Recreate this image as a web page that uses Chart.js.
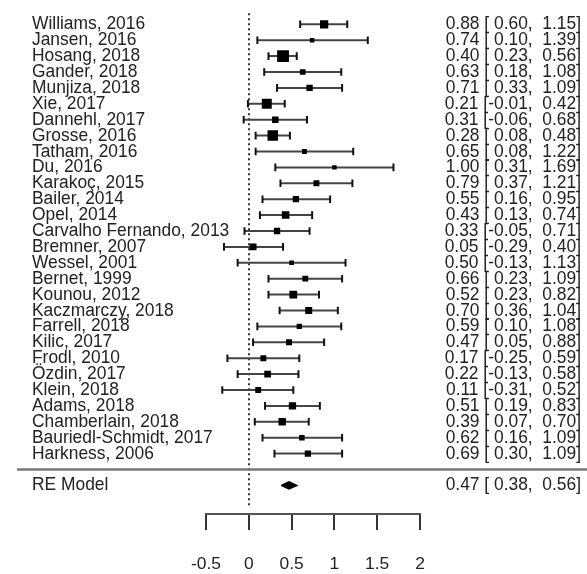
<!DOCTYPE html>
<html>
<head>
<meta charset="utf-8">
<script src="https://cdn.jsdelivr.net/npm/chart.js@4.4.1/dist/chart.umd.min.js"></script>
<style>
  html, body { margin: 0; padding: 0; background: #fff; }
  #wrap { width: 587px; height: 574px; position: relative; }
</style>
</head>
<body>
<div id="wrap"><canvas id="forest"></canvas></div>
<script>
// study data (standardised effects with 95% CI)
const studies = [
  'Williams, 2016', 'Jansen, 2016', 'Hosang, 2018', 'Gander, 2018', 'Munjiza, 2018',
  'Xie, 2017', 'Dannehl, 2017', 'Grosse, 2016', 'Tatham, 2016', 'Du, 2016',
  'Karakoç, 2015', 'Bailer, 2014', 'Opel, 2014', 'Carvalho Fernando, 2013', 'Bremner, 2007',
  'Wessel, 2001', 'Bernet, 1999', 'Kounou, 2012', 'Kaczmarczy, 2018', 'Farrell, 2018',
  'Kilic, 2017', 'Frodl, 2010', 'Özdin, 2017', 'Klein, 2018', 'Adams, 2018',
  'Chamberlain, 2018', 'Bauriedl-Schmidt, 2017', 'Harkness, 2006'
];
const estimates = [0.88, 0.74, 0.40, 0.63, 0.71, 0.21, 0.31, 0.28, 0.65, 1.00,
  0.79, 0.55, 0.43, 0.33, 0.05, 0.50, 0.66, 0.52, 0.70, 0.59,
  0.47, 0.17, 0.22, 0.11, 0.51, 0.39, 0.62, 0.69];
const lower = [0.60, 0.10, 0.23, 0.18, 0.33, -0.01, -0.06, 0.08, 0.08, 0.31,
  0.37, 0.16, 0.13, -0.05, -0.29, -0.13, 0.23, 0.23, 0.36, 0.10,
  0.05, -0.25, -0.13, -0.31, 0.19, 0.07, 0.16, 0.30];
const upper = [1.15, 1.39, 0.56, 1.08, 1.09, 0.42, 0.68, 0.48, 1.22, 1.69,
  1.21, 0.95, 0.74, 0.71, 0.40, 1.13, 1.09, 0.82, 1.04, 1.08,
  0.88, 0.59, 0.58, 0.52, 0.83, 0.70, 1.09, 1.09];
// approximate weights in %, read from the square sizes
const weights = [5.2, 1.3, 9.0, 2.5, 3.2, 7.0, 3.4, 7.6, 1.6, 1.2,
  2.8, 3.1, 4.5, 3.2, 3.8, 1.4, 2.7, 4.7, 3.9, 2.1,
  2.8, 2.8, 3.6, 2.8, 4.2, 4.3, 2.3, 3.1];

const pooledLabel = 'RE Model';
const pooled = { est: 0.47, lower: 0.38, upper: 0.56 };

const xTicks = [-0.5, 0, 0.5, 1, 1.5, 2];
const refLine = 0;

// rows: studies 1..28, separator at 29, summary at 30
const rowOf = i => i + 1;
const sepRow = studies.length + 1;
const pooledRow = studies.length + 2;

const FONT = '"Liberation Sans", Arial, Helvetica, sans-serif';
const FSIZE = 17.4;
const TEXT = '#222';

const fmtCI = v => (v < 0 ? '' : ' ') + v.toFixed(2);
const annot = (e, l, u) => e.toFixed(2) + ' [' + fmtCI(l) + ', ' + fmtCI(u) + ']';

// CI segments, one dataset per study
const ciSets = studies.map((s, i) => ({
  type: 'line',
  data: [{ x: lower[i], y: rowOf(i) }, { x: upper[i], y: rowOf(i) }],
  borderColor: '#444',
  borderWidth: 2,
  pointStyle: 'line',
  pointRotation: 90,
  pointRadius: 3.8,
  pointBorderColor: '#111',
  pointBorderWidth: 2,
  order: 2
}));

const squares = {
  type: 'scatter',
  data: estimates.map((e, i) => ({ x: e, y: rowOf(i) })),
  pointStyle: 'rect',
  pointRadius: weights.map(w => (3.3 + 0.95 * w) / Math.SQRT2),
  backgroundColor: '#000',
  borderWidth: 0,
  pointBorderWidth: 0,
  order: 0
};

const diamondHalf = 0.23;
const diamond = {
  type: 'line',
  data: [
    { x: pooled.lower, y: pooledRow },
    { x: pooled.est, y: pooledRow - diamondHalf },
    { x: pooled.upper, y: pooledRow },
    { x: pooled.est, y: pooledRow + diamondHalf },
    { x: pooled.lower, y: pooledRow }
  ],
  borderColor: '#000',
  borderWidth: 1.5,
  backgroundColor: '#000',
  fill: 'shape',
  pointRadius: 0,
  tension: 0,
  order: 1
};

const textPlugin = {
  id: 'forestText',
  beforeDatasetsDraw(chart) {
    const { ctx, scales: { x, y } } = chart;
    // dotted reference line
    ctx.save();
    ctx.strokeStyle = '#333';
    ctx.lineWidth = 2;
    ctx.setLineDash([2, 3]);
    const xr = Math.round(x.getPixelForValue(refLine));
    ctx.beginPath();
    ctx.moveTo(xr, y.getPixelForValue(0.3));
    ctx.lineTo(xr, y.getPixelForValue(31.4));
    ctx.stroke();
    ctx.restore();
  },
  afterDraw(chart) {
    const { ctx, scales: { y } } = chart;
    ctx.save();
    ctx.fillStyle = TEXT;
    ctx.font = FSIZE + 'px ' + FONT;
    ctx.textBaseline = 'middle';
    const put = (str, px, py, align) => {
      ctx.save();
      ctx.translate(px, py);
      ctx.scale(1, 1.05);
      ctx.textAlign = align;
      ctx.fillText(str, 0, 0);
      ctx.restore();
    };
    studies.forEach((s, i) => {
      const py = y.getPixelForValue(rowOf(i));
      put(s, 32, py, 'left');
      put(annot(estimates[i], lower[i], upper[i]), 581, py, 'right');
    });
    const pp = y.getPixelForValue(pooledRow);
    put(pooledLabel, 32, pp, 'left');
    put(annot(pooled.est, pooled.lower, pooled.upper), 581, pp, 'right');

    // separator
    const sy = y.getPixelForValue(sepRow);
    ctx.strokeStyle = '#777';
    ctx.lineWidth = 2.5;
    ctx.beginPath();
    ctx.moveTo(17, sy);
    ctx.lineTo(587, sy);
    ctx.stroke();
    ctx.restore();
  }
};

new Chart(document.getElementById('forest'), {
  data: { datasets: [squares, diamond, ...ciSets] },
  options: {
    responsive: true,
    maintainAspectRatio: false,
    animation: false,
    layout: { padding: { top: 3, left: 206, right: 167, bottom: 0 } },
    plugins: { legend: { display: false }, tooltip: { enabled: false } },
    scales: {
      x: {
        type: 'linear',
        min: xTicks[0],
        max: xTicks[xTicks.length - 1],
        afterBuildTicks: s => { s.ticks = xTicks.map(v => ({ value: v })); },
        afterFit: s => { s.height = 60; },
        ticks: {
          color: TEXT,
          font: { family: FONT, size: FSIZE },
          padding: 24,
          maxRotation: 0,
          callback: v => String(v)
        },
        grid: { drawOnChartArea: false, tickLength: 16, color: '#333', lineWidth: 2 },
        border: { color: '#555', width: 2 }
      },
      y: {
        type: 'linear',
        reverse: true,
        min: 0,
        max: 31.8,
        display: false
      }
    }
  },
  plugins: [textPlugin]
});
</script>
</body>
</html>
